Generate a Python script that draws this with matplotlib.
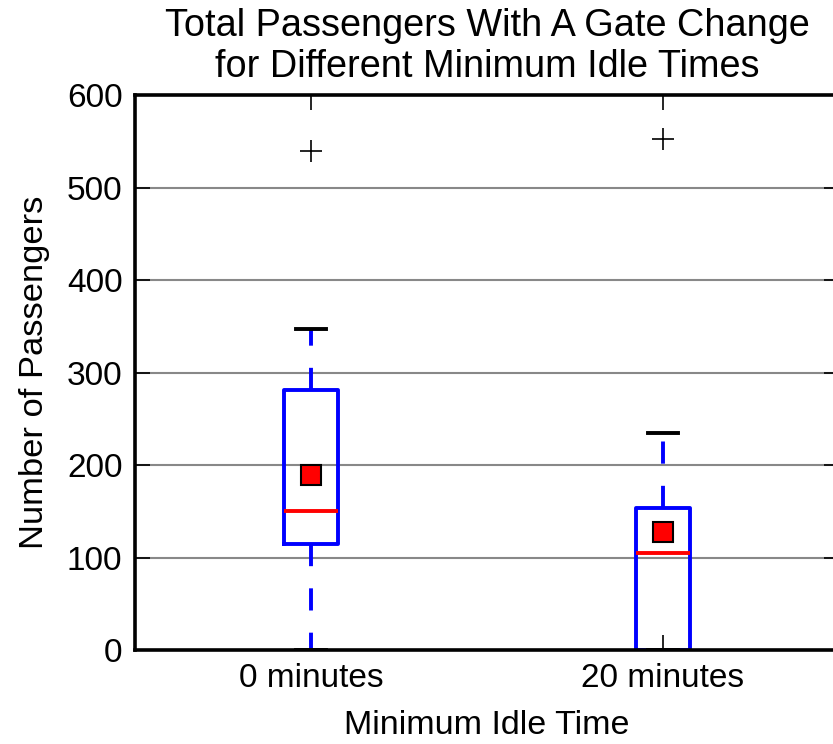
import matplotlib
matplotlib.use("Agg")
import matplotlib.pyplot as plt

plt.rcParams.update({
    "font.family": ["Liberation Sans", "DejaVu Sans"],
    "font.size": 24,
})

# Box statistics
labels = ["0 minutes", "20 minutes"]
q1 = [115, 0]
medians = [151, 105]
q3 = [281, 154]
whis_lo = [0, 0]
whis_hi = [347, 235]
means = [189, 128]
fliers = [[540], [553]]

stats = []
for i in range(len(labels)):
    stats.append(dict(
        label=labels[i], q1=q1[i], med=medians[i], q3=q3[i],
        whislo=whis_lo[i], whishi=whis_hi[i], mean=means[i], fliers=fliers[i],
    ))

fig = plt.figure(figsize=(8.33, 7.44), dpi=100)
ax = fig.add_axes([0.162, 0.126, 0.845, 0.746])

ax.yaxis.grid(True, color="#888888", lw=1.5, zorder=0)
ax.set_axisbelow(True)

lw = 2.8
ax.bxp(
    stats, positions=[1, 2], widths=0.155, showmeans=True,
    boxprops=dict(color="blue", lw=lw),
    medianprops=dict(color="red", lw=lw),
    whiskerprops=dict(color="blue", lw=lw, linestyle=(0, (5.7, 5.7))),
    capprops=dict(color="black", lw=lw),
    capwidths=0.085,
    flierprops=dict(marker="+", markeredgecolor="black", markersize=16, markeredgewidth=1.2),
    meanprops=dict(marker="s", markerfacecolor="red", markeredgecolor="black",
                   markersize=15, markeredgewidth=1.5),
)

ax.set_xlim(0.5, 2.5)
ax.set_ylim(0, 600)
ax.set_yticks([0, 100, 200, 300, 400, 500, 600])
for s in ax.spines.values():
    s.set_linewidth(2.6)
ax.tick_params(direction="in", length=11, width=1.2, top=True, right=True, pad=9)

ax.set_xlabel("Minimum Idle Time", labelpad=12, fontsize=24.5)
ax.set_ylabel("Number of Passengers", labelpad=12, fontsize=24.8)
ax.set_title("Total Passengers With A Gate Change\nfor Different Minimum Idle Times",
             pad=13, fontsize=27.3)

fig.savefig("out.png", dpi=100, facecolor="white")
